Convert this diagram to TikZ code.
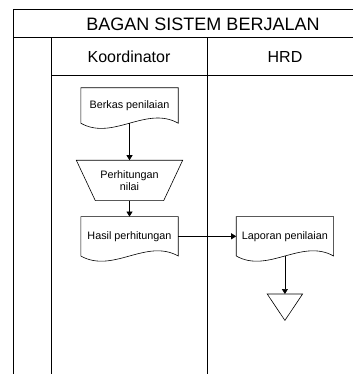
\documentclass[tikz,border=0pt]{standalone}
\usepackage{fontspec}
\setmainfont{Liberation Sans}
\usetikzlibrary{
	arrows.meta,
	positioning,
	calc
}

\tikzset{
	bingkai/.style={line width=1pt},
	garis/.style={line width=.6pt},
	panah/.style={line width=.7pt, -{Triangle[length=5pt,width=6pt]}},
	dok/.style={minimum width=97pt, minimum height=38pt, inner sep=2pt, font=\fontsize{10.8}{12}\selectfont},
}

% bentuk dokumen dengan sisi bawah bergelombang
\newcommand{\dokumen}[1]{
	\draw[garis] (#1.south west) -- (#1.north west) -- (#1.north east) -- (#1.south east)
		.. controls +(-32,-18) and +(32,18) .. (#1.south west);
}

\begin{document}
\begin{tikzpicture}[x=1pt, y=-1pt]

		\useasboundingbox (0,0) rectangle (353,374);

		% bingkai bagan
		\draw[bingkai] (353,10) -- (13,10) -- (13,374);
		\draw[bingkai] (13,37.5) -- (353,37.5);
		\draw[bingkai] (51,37.5) -- (51,374);
		\draw[bingkai] (207,37.5) -- (207,374);
		\draw[bingkai] (51,75.5) -- (353,75.5);

		\node[font=\fontsize{18}{20}\selectfont] (judul) at (203,24) {BAGAN SISTEM BERJALAN};
		\node[font=\fontsize{16}{18}\selectfont] (koordinator) at (129,56.5) {Koordinator};
		\node[font=\fontsize{16}{18}\selectfont] (hrd) at (285,56.5) {HRD};

		% koordinator
		\node[dok, minimum height=35pt] (berkas) at (129.5,105.5) {Berkas penilaian};
		\node[dok, minimum width=106pt, minimum height=40pt, align=center, below=37pt of berkas] (hitung) {Perhitungan\\nilai};
		\node[dok, minimum height=39pt, below=16pt of hitung] (hasil) {Hasil perhitungan};

		% hrd
		\node[dok, minimum height=39pt, right=58pt of hasil] (laporan) {Laporan penilaian};
		\node[minimum width=35pt, minimum height=26pt, inner sep=0pt, below=38pt of laporan] (akhir) {};

		\dokumen{berkas}
		\dokumen{hasil}
		\dokumen{laporan}
		\draw[garis] (hitung.north west) -- (hitung.north east) -- ($(hitung.south east)+(-19,0)$) -- ($(hitung.south west)+(19,0)$) -- cycle;
		\draw[garis] (akhir.north west) -- (akhir.north east) -- (akhir.south) -- cycle;

		\draw[panah] (berkas.south) -- (hitung.north);
		\draw[panah] (hitung.south) -- (hasil.north);
		\draw[panah] (hasil.east) -- (laporan.west);
		\draw[panah] (laporan.south) -- (akhir.north);

	\end{tikzpicture}
\end{document}
